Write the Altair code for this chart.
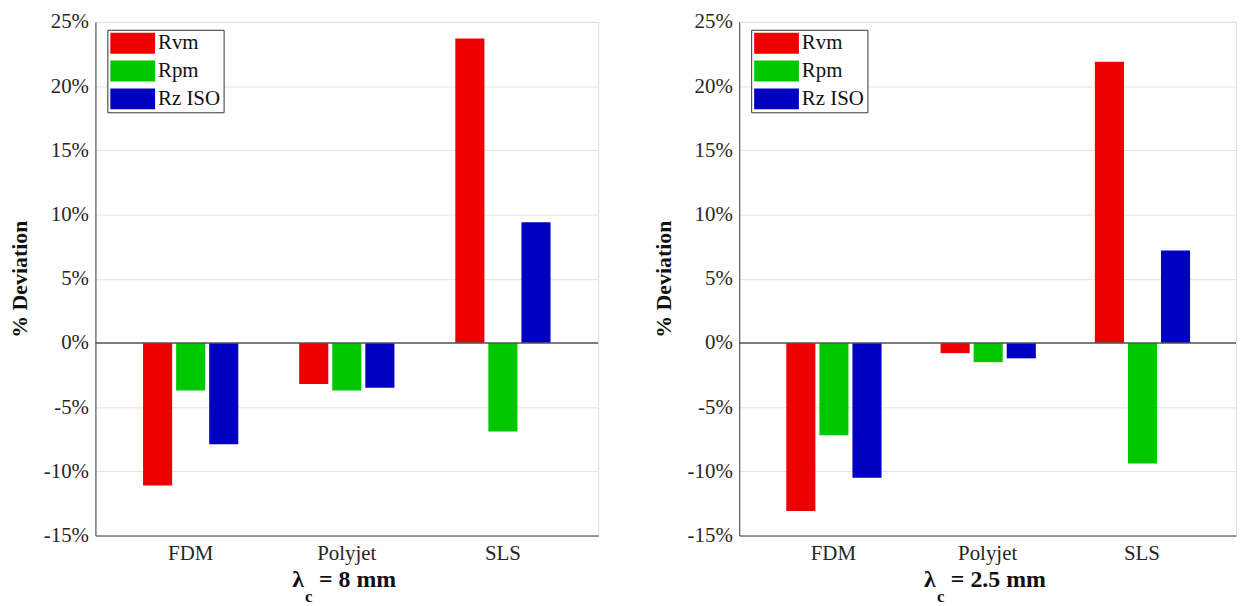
import altair as alt
import pandas as pd

categories = ["FDM", "Polyjet", "SLS"]
series = ["Rvm", "Rpm", "Rz ISO"]
colors = ["#ee0000", "#00c800", "#0000c0"]

left_rvm = [-11.1, -3.2, 23.7]
left_rpm = [-3.7, -3.7, -6.9]
left_rz = [-7.9, -3.5, 9.4]

right_rvm = [-13.1, -0.8, 21.9]
right_rpm = [-7.2, -1.5, -9.4]
right_rz = [-10.5, -1.2, 7.2]

y_ticks = [-15, -10, -5, 0, 5, 10, 15, 20, 25]

FONT = "Liberation Serif"
H = 517


def panel(rvm, rpm, rz, lam_value, lam_x, W):
    rows = []
    for s, vals in zip(series, [rvm, rpm, rz]):
        for c, v in zip(categories, vals):
            rows.append({"category": c, "series": s, "value": v})
    df = pd.DataFrame(rows)

    bars = alt.Chart(df).mark_bar().encode(
        x=alt.X("category:N", sort=categories,
                scale=alt.Scale(paddingInner=0.39, paddingOuter=0.305),
                axis=alt.Axis(title=None, labelAngle=0, labelFont=FONT, labelFontSize=21,
                              labelColor="#262626", ticks=False, labelPadding=7,
                              domainColor="#444")),
        xOffset=alt.XOffset("series:N", sort=series, scale=alt.Scale(paddingInner=0.12)),
        y=alt.Y("value:Q", scale=alt.Scale(domain=[-15, 25], nice=False),
                axis=alt.Axis(title="% Deviation", values=y_ticks,
                              labelExpr="datum.value + '%'", labelFont=FONT,
                              labelFontSize=21, labelColor="#262626",
                              titleFont=FONT, titleFontSize=22, titleFontWeight="bold",
                              titleColor="#111", titlePadding=12, ticks=False,
                              labelPadding=7, grid=True, gridColor="#e2e2e2",
                              domainColor="#444")),
        color=alt.Color("series:N", sort=series,
                        scale=alt.Scale(domain=series, range=colors),
                        legend=alt.Legend(title=None, orient="none", legendX=12, legendY=8,
                                          strokeColor="#333", fillColor="white", padding=3,
                                          symbolType="M-1,-1H3.29V1H-1Z", symbolSize=441,
                                          symbolStrokeWidth=0, symbolOpacity=1,
                                          labelFont=FONT, labelFontSize=21, labelColor="#111",
                                          labelOffset=27, rowPadding=6)),
    )

    zero = alt.Chart(pd.DataFrame({"z": [0]})).mark_rule(color="#555", strokeWidth=1.5).encode(
        y=alt.Y("z:Q")
    )

    t_df = pd.DataFrame({"t": [lam_value]})
    lam = alt.Chart(pd.DataFrame({"t": ["λ"]})).mark_text(
        font=FONT, fontSize=24, fontWeight="bold", align="left", baseline="alphabetic", color="#111"
    ).encode(text="t:N", x=alt.value(lam_x), y=alt.value(H + 52))
    sub = alt.Chart(pd.DataFrame({"t": ["c"]})).mark_text(
        font=FONT, fontSize=17, fontWeight="bold", align="left", baseline="alphabetic", color="#111"
    ).encode(text="t:N", x=alt.value(lam_x + 13), y=alt.value(H + 67))
    rest = alt.Chart(t_df).mark_text(
        font=FONT, fontSize=24, fontWeight="bold", align="left", baseline="alphabetic", color="#111"
    ).encode(text="t:N", x=alt.value(lam_x + 27), y=alt.value(H + 52))

    return alt.layer(bars, zero, lam, sub, rest).properties(width=W, height=H)


left = panel(left_rvm, left_rpm, left_rz, "= 8 mm", 198, 506)
right = panel(right_rvm, right_rpm, right_rz, "= 2.5 mm", 186, 500)

chart = alt.hconcat(left, right, spacing=52).resolve_legend(color="independent").properties(
    padding={"left": 0, "top": 0, "right": 0, "bottom": 0}
).configure_view(stroke="#444", strokeWidth=1).configure(background="white")

chart.save("out.html", embed_options={"renderer": "svg", "actions": False})
